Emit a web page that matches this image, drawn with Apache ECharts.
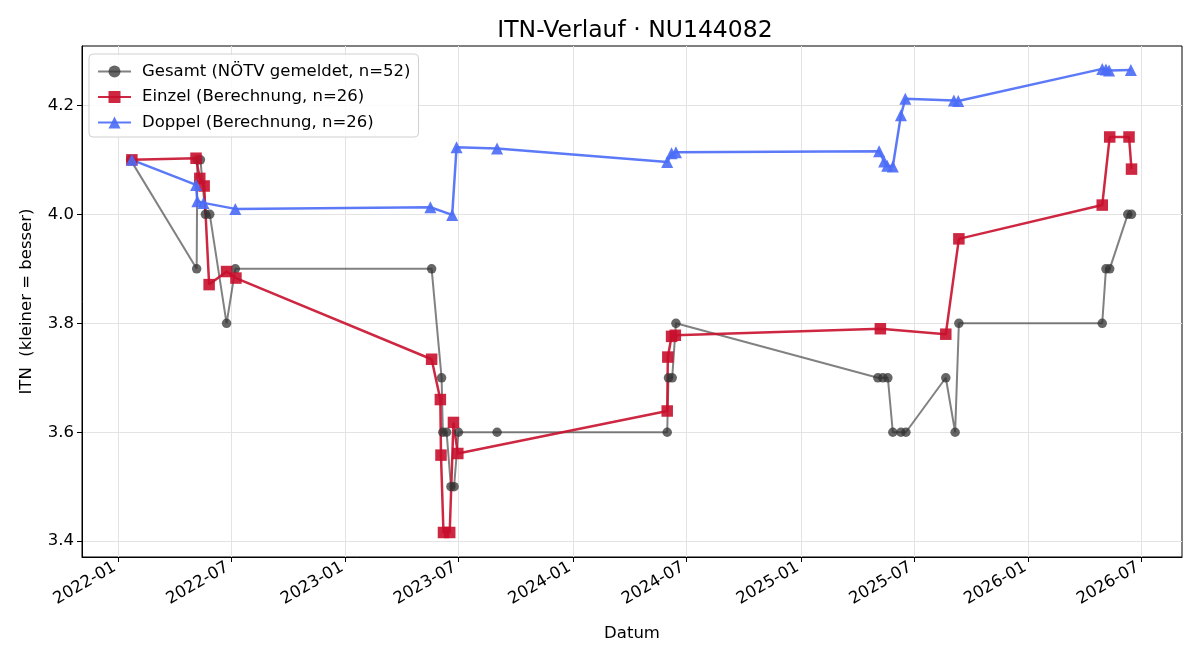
<!DOCTYPE html>
<html>
<head>
<meta charset="utf-8">
<script src="https://cdn.jsdelivr.net/npm/echarts@6/dist/echarts.min.js"></script>
<style>
  html, body { margin: 0; padding: 0; background: #fff; }
  #main { width: 1200px; height: 660px; }
</style>
</head>
<body>
<div id="main"></div>
<script>
// Gesamt (NÖTV gemeldet)
const gesamtDates = ['2022-01-21','2022-05-07','2022-05-08','2022-05-13','2022-05-21','2022-05-28','2022-06-24','2022-07-08',
  '2023-05-19','2023-06-04','2023-06-06','2023-06-12','2023-06-19','2023-06-24','2023-07-01','2023-09-01',
  '2024-05-31','2024-06-02','2024-06-08','2024-06-14',
  '2025-05-04','2025-05-12','2025-05-20','2025-05-28','2025-06-10','2025-06-18','2025-08-21','2025-09-05','2025-09-11',
  '2026-04-29','2026-05-05','2026-05-11','2026-06-09','2026-06-15']
const gesamtValues = [4.1,3.9,4.1,4.1,4.0,4.0,3.8,3.9,
  3.9,3.7,3.6,3.6,3.5,3.5,3.6,3.6,
  3.6,3.7,3.7,3.8,
  3.7,3.7,3.7,3.6,3.6,3.6,3.7,3.6,3.8,
  3.8,3.9,3.9,4.0,4.0]

// Einzel (Berechnung)
const einzelDates = ['2022-01-23','2022-05-06','2022-05-12','2022-05-19','2022-05-27','2022-06-24','2022-07-09',
  '2023-05-19','2023-06-02','2023-06-03','2023-06-07','2023-06-17','2023-06-23','2023-06-30',
  '2024-05-31','2024-06-01','2024-06-07','2024-06-13',
  '2025-05-08','2025-08-21','2025-09-11',
  '2026-04-29','2026-05-11','2026-06-11','2026-06-15']
const einzelValues = [4.100,4.103,4.066,4.052,3.871,3.895,3.883,
  3.734,3.660,3.558,3.416,3.416,3.618,3.561,
  3.639,3.738,3.776,3.778,
  3.790,3.780,3.955,
  4.017,4.142,4.142,4.083]

// Doppel (Berechnung)
const doppelDates = ['2022-01-23','2022-05-06','2022-05-08','2022-05-18','2022-07-08',
  '2023-05-17','2023-06-21','2023-06-28','2023-09-01',
  '2024-05-31','2024-06-07','2024-06-14',
  '2025-05-06','2025-05-14','2025-05-19','2025-05-28','2025-06-10','2025-06-17','2025-09-03','2025-09-10',
  '2026-04-29','2026-05-05','2026-05-10','2026-06-14']
const doppelValues = [4.100,4.054,4.024,4.021,4.010,
  4.013,3.999,4.123,4.121,
  4.096,4.112,4.114,
  4.116,4.097,4.089,4.088,4.182,4.212,4.209,4.208,
  4.267,4.266,4.264,4.265]

const xTicks = ['2022-01-01','2022-07-01','2023-01-01','2023-07-01','2024-01-01','2024-07-01',
  '2025-01-01','2025-07-01','2026-01-01','2026-07-01']
const yTicks = [3.4, 3.6, 3.8, 4.0, 4.2]

const ts = s => { const p = s.split('-').map(Number); return Date.UTC(p[0], p[1] - 1, p[2]) }
const pairs = (d, v) => d.map((x, i) => [ts(x), v[i]])
const fmtMonth = v => { const d = new Date(v); return d.getUTCFullYear() + '-' + String(d.getUTCMonth() + 1).padStart(2, '0') }

const font = 'DejaVu Sans'
const fs = 16.5
const mychart = echarts.init(document.getElementById('main'), null, { renderer: 'canvas' })

const option = {
  animation: false,
  backgroundColor: '#fff',
  title: {
    text: 'ITN-Verlauf · NU144082',
    left: 630, textAlign: 'center', top: 14,
    textStyle: { fontFamily: font, fontSize: 23.5, fontWeight: 'normal', color: '#000' }
  },
  legend: {
    orient: 'vertical', left: 89, top: 54,
    padding: [9, 8, 6, 8], itemGap: 8.5,
    itemWidth: 33, itemHeight: 15,
    backgroundColor: 'rgba(255,255,255,0.85)',
    borderColor: '#d0d0d0', borderWidth: 1, borderRadius: 4,
    textStyle: { fontFamily: font, fontSize: fs, color: '#000', padding: [0, 0, 0, 6] }
  },
  grid: { left: 82, right: 18, top: 46, bottom: 103, show: true, borderColor: '#000', borderWidth: 1 },
  xAxis: {
    type: 'value',
    min: ts('2021-11-04'), max: ts('2026-09-04'),
    name: 'Datum', nameLocation: 'middle', nameGap: 68,
    nameTextStyle: { fontFamily: font, fontSize: fs, color: '#000' },
    axisLine: { lineStyle: { color: '#000' } },
    axisTick: { show: true, length: 5, lineStyle: { color: '#000' }, customValues: xTicks.map(ts) },
    axisLabel: {
      rotate: 30, fontFamily: font, fontSize: fs, color: '#000', margin: 7,
      padding: [0, 4, 0, 0],
      customValues: xTicks.map(ts),
      formatter: fmtMonth
    },
    splitLine: { show: true, lineStyle: { color: '#e3e3e3', width: 1 } }
  },
  yAxis: {
    type: 'value',
    min: 3.371, max: 4.309,
    name: 'ITN  (kleiner = besser)', nameLocation: 'middle', nameGap: 47,
    nameTextStyle: { fontFamily: font, fontSize: fs, color: '#000' },
    axisLine: { show: true, lineStyle: { color: '#000' } },
    axisTick: { show: true, length: 5, lineStyle: { color: '#000' }, customValues: yTicks },
    axisLabel: {
      fontFamily: font, fontSize: fs, color: '#000', margin: 8,
      customValues: yTicks,
      formatter: v => v.toFixed(1)
    },
    splitLine: { show: true, lineStyle: { color: '#e3e3e3', width: 1 } }
  },
  series: [
    {
      name: 'Gesamt (NÖTV gemeldet, n=52)',
      type: 'line',
      data: pairs(gesamtDates, gesamtValues),
      symbol: 'circle', symbolSize: 9.5, showSymbol: true,
      lineStyle: { color: '#333', width: 2, opacity: 0.62 },
      itemStyle: { color: '#333', opacity: 0.75 }
    },
    {
      name: 'Einzel (Berechnung, n=26)',
      type: 'line',
      data: pairs(einzelDates, einzelValues),
      symbol: 'rect', symbolSize: 11.5, showSymbol: true,
      lineStyle: { color: '#c8102e', width: 2.5, opacity: 0.9 },
      itemStyle: { color: '#c8102e', opacity: 0.9 }
    },
    {
      name: 'Doppel (Berechnung, n=26)',
      type: 'line',
      data: pairs(doppelDates, doppelValues),
      symbol: 'triangle', symbolSize: 12, showSymbol: true,
      lineStyle: { color: '#4a6cf7', width: 2.5, opacity: 0.9 },
      itemStyle: { color: '#4a6cf7', opacity: 0.9 }
    }
  ]
}

mychart.setOption(option)
</script>
</body>
</html>
